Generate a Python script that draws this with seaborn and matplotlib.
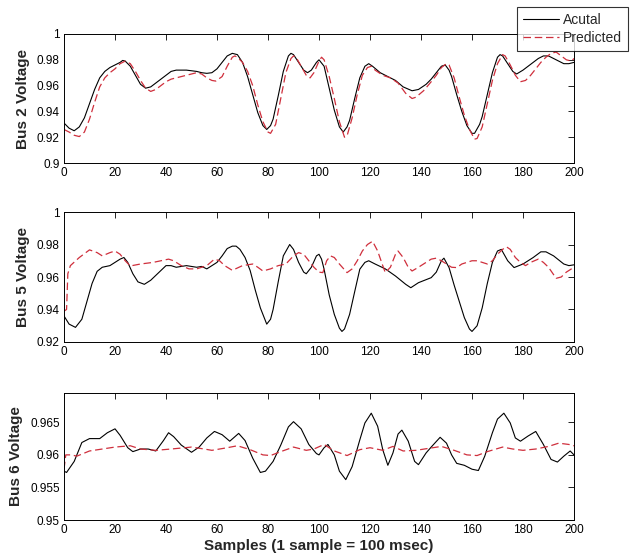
import numpy as np
import pandas as pd
import seaborn as sns
import matplotlib.pyplot as plt
from matplotlib.ticker import FuncFormatter

sns.set_style("white")
plt.rcParams['font.family'] = ['Liberation Sans', 'DejaVu Sans']

# Bus 2 - actual / predicted
bus2_act_x = [0, 2, 4, 6, 8, 10, 12, 14, 16, 18, 20, 22, 23, 24, 26, 28, 30, 32, 34, 36, 38, 40, 42, 44, 46, 48, 50,
              52, 54, 56, 58, 60, 62, 64, 66, 68, 70, 72, 74, 76, 78, 79.5, 81, 82, 84, 86, 88, 89, 90, 92, 94, 95.5,
              97, 99, 100, 102, 104, 106, 108, 109.5, 111, 112, 114, 116, 118, 119.5, 121, 124, 127, 130, 133, 136.5,
              139, 142, 144, 146, 148, 149.5, 151, 152, 154, 156, 158, 160, 161, 163, 164, 166, 168, 170, 171, 172,
              174, 176, 177.5, 180, 182, 184, 186, 188, 190, 192, 194, 196, 198, 200]
bus2_act_y = [0.931, 0.927, 0.925, 0.928, 0.935, 0.946, 0.957, 0.966, 0.971, 0.974, 0.976, 0.978, 0.9795, 0.979,
              0.975, 0.968, 0.961, 0.958, 0.959, 0.962, 0.965, 0.968, 0.971, 0.972, 0.972, 0.972, 0.9715, 0.971,
              0.970, 0.9695, 0.970, 0.973, 0.978, 0.983, 0.985, 0.984, 0.978, 0.967, 0.953, 0.939, 0.929, 0.926,
              0.929, 0.934, 0.952, 0.971, 0.983, 0.985, 0.984, 0.978, 0.972, 0.970, 0.972, 0.978, 0.980, 0.975,
              0.958, 0.941, 0.928, 0.924, 0.928, 0.933, 0.950, 0.966, 0.975, 0.977, 0.975, 0.970, 0.967, 0.964,
              0.959, 0.956, 0.957, 0.961, 0.965, 0.970, 0.975, 0.976, 0.972, 0.967, 0.953, 0.940, 0.929, 0.923,
              0.923, 0.930, 0.936, 0.953, 0.970, 0.982, 0.984, 0.983, 0.977, 0.971, 0.969, 0.972, 0.975, 0.978,
              0.981, 0.983, 0.983, 0.981, 0.979, 0.977, 0.977, 0.978]
bus2_pred_x = [0, 2, 4, 6, 8, 10, 12, 14, 16, 18, 20, 22, 24, 26, 28, 30, 32, 34, 36, 38, 40, 42, 44, 46, 48, 50, 52,
               54, 56, 58, 59.5, 62, 64, 66, 67, 68, 70, 72, 74, 76, 78, 80, 81, 83, 85, 87, 89, 90, 91, 93, 95, 96.5,
               98, 100, 101, 102, 104, 106, 108, 110, 111, 113, 115, 117, 119, 120.5, 122, 125, 128, 131, 134, 136.5,
               138, 141, 144, 146, 148, 150, 151, 153, 155, 157, 159, 161, 162, 164, 166, 168, 170, 172, 173, 175,
               177, 179, 181, 183, 185, 187, 189, 191, 193, 195, 197, 199, 200]
bus2_pred_y = [0.926, 0.924, 0.9215, 0.9205, 0.924, 0.934, 0.947, 0.959, 0.966, 0.970, 0.973, 0.977, 0.979, 0.977,
               0.971, 0.964, 0.958, 0.9555, 0.957, 0.960, 0.963, 0.965, 0.966, 0.967, 0.968, 0.969, 0.970, 0.969,
               0.966, 0.964, 0.9635, 0.967, 0.975, 0.982, 0.983, 0.982, 0.978, 0.971, 0.960, 0.945, 0.932, 0.924,
               0.923, 0.930, 0.950, 0.970, 0.981, 0.983, 0.982, 0.975, 0.968, 0.966, 0.970, 0.979, 0.982, 0.980,
               0.967, 0.950, 0.932, 0.920, 0.921, 0.935, 0.953, 0.968, 0.974, 0.975, 0.972, 0.968, 0.966, 0.962,
               0.954, 0.950, 0.951, 0.956, 0.963, 0.968, 0.974, 0.977, 0.976, 0.966, 0.951, 0.937, 0.926, 0.9185,
               0.919, 0.928, 0.946, 0.964, 0.977, 0.984, 0.983, 0.976, 0.968, 0.963, 0.964, 0.968, 0.973, 0.978,
               0.982, 0.985, 0.986, 0.983, 0.980, 0.979, 0.981]

# Bus 5 - actual / predicted
bus5_act_x = [0, 2, 4.5, 7, 9, 11, 13, 15, 18, 20, 22, 23.5, 25, 27, 29, 31.5, 34, 36, 38, 40, 42, 44, 46, 48, 50, 52,
              54, 56, 58, 60, 62, 64, 66, 67.5, 69, 71, 73, 75, 77, 79.5, 81, 82, 84, 86, 88.5, 90, 92, 94, 95, 97, 99,
              100, 101, 102, 104, 106, 108, 109, 110, 112, 114, 116, 118, 119.5, 122, 126, 130, 134, 136, 139, 144,
              146, 148, 149, 151, 153, 155, 157, 159, 160, 162, 164, 166, 168, 170, 171.5, 174, 176.5, 180, 184, 187,
              189, 192, 196, 198, 200]
bus5_act_y = [0.936, 0.931, 0.929, 0.934, 0.945, 0.956, 0.9635, 0.966, 0.967, 0.969, 0.971, 0.972, 0.969, 0.962,
              0.957, 0.9555, 0.958, 0.961, 0.964, 0.967, 0.967, 0.966, 0.9665, 0.967, 0.9665, 0.966, 0.9665, 0.965,
              0.967, 0.969, 0.973, 0.9775, 0.979, 0.979, 0.977, 0.972, 0.964, 0.952, 0.941, 0.931, 0.934, 0.940,
              0.957, 0.973, 0.980, 0.977, 0.969, 0.963, 0.962, 0.966, 0.973, 0.974, 0.971, 0.9648, 0.949, 0.937,
              0.9285, 0.9265, 0.928, 0.937, 0.951, 0.9648, 0.969, 0.970, 0.968, 0.965, 0.9606, 0.9555, 0.9534,
              0.9565, 0.9596, 0.963, 0.970, 0.9716, 0.9658, 0.955, 0.945, 0.935, 0.928, 0.9265, 0.930, 0.941, 0.956,
              0.969, 0.976, 0.977, 0.970, 0.9658, 0.968, 0.972, 0.9755, 0.9755, 0.973, 0.968, 0.967, 0.9675]
bus5_pred_x = [0, 1, 1.5, 2.5, 6, 10, 13, 15, 18, 20, 22, 24, 26, 30, 35, 38, 41, 43, 46, 49, 52, 56, 59, 61, 63, 66,
               70, 74, 76, 78, 81, 84, 87, 90, 92, 94, 96, 98, 100, 101.5, 103, 104.5, 106, 108, 111, 113, 115, 117,
               119, 121, 123, 125, 126, 128, 130, 131, 133, 135, 136.5, 139, 141, 144, 146, 148, 150, 152, 154, 156,
               158, 160, 162, 164, 166, 168, 170, 172, 173.5, 175, 177, 179, 181, 183, 186, 188, 190, 193, 195, 197,
               200]
bus5_pred_y = [0.939, 0.940, 0.962, 0.967, 0.972, 0.9767, 0.975, 0.973, 0.975, 0.976, 0.974, 0.970, 0.9668, 0.968,
               0.969, 0.970, 0.971, 0.970, 0.967, 0.965, 0.965, 0.967, 0.971, 0.970, 0.967, 0.9641, 0.967, 0.968,
               0.966, 0.9637, 0.965, 0.967, 0.968, 0.973, 0.975, 0.974, 0.970, 0.966, 0.963, 0.9627, 0.970, 0.973,
               0.972, 0.968, 0.9627, 0.965, 0.970, 0.976, 0.980, 0.982, 0.976, 0.967, 0.9627, 0.966, 0.974, 0.976,
               0.972, 0.966, 0.9637, 0.966, 0.968, 0.971, 0.9716, 0.970, 0.968, 0.966, 0.9658, 0.968, 0.969, 0.970,
               0.970, 0.969, 0.968, 0.970, 0.974, 0.977, 0.9786, 0.977, 0.972, 0.969, 0.967, 0.969, 0.971, 0.969,
               0.966, 0.9592, 0.960, 0.963, 0.966]

# Bus 6 - actual / predicted
bus6_act_x = [0, 1, 4, 7, 10, 14, 17, 20, 22, 25, 27, 30, 33, 36, 39, 41, 43, 46, 50, 53, 56, 59, 62, 65, 68.5, 71,
              74, 77, 79, 82, 85, 88, 90, 93, 96, 99, 100, 102, 103.5, 106, 108, 110.5, 113, 116, 118, 120.5, 123,
              125, 127, 129, 131, 132.5, 135, 137.5, 139, 142, 144, 147.5, 150, 152, 154, 157, 160, 162.5, 165, 168,
              170, 172.5, 175, 177, 179, 182, 185, 188, 191, 193.5, 196, 198.5, 200]
bus6_act_y = [0.9575, 0.9573, 0.959, 0.9619, 0.9625, 0.9625, 0.9634, 0.964, 0.963, 0.9611, 0.9605, 0.9609, 0.9609,
              0.9606, 0.9622, 0.9634, 0.9628, 0.9615, 0.9604, 0.9612, 0.9626, 0.9636, 0.9631, 0.9621, 0.9633,
              0.9622, 0.9595, 0.9573, 0.9575, 0.959, 0.9615, 0.9643, 0.9651, 0.964, 0.9616, 0.9602, 0.960, 0.9611,
              0.9616, 0.960, 0.9575, 0.9562, 0.9582, 0.9623, 0.9649, 0.9664, 0.9644, 0.9608, 0.9584, 0.9603,
              0.9632, 0.9638, 0.9621, 0.959, 0.9585, 0.9603, 0.9612, 0.9627, 0.9618, 0.960, 0.9587, 0.9584, 0.9578,
              0.9576, 0.9598, 0.9634, 0.9655, 0.9664, 0.9649, 0.9626, 0.9621, 0.9629, 0.9636, 0.9616, 0.9593,
              0.9589, 0.9598, 0.9606, 0.960]
bus6_pred_x = [0, 0.7, 3, 5, 10, 15, 20, 26, 30, 36, 42, 50, 55, 58, 64, 68, 73, 78, 81, 85, 90, 95, 98, 102, 106,
               111, 116, 120, 125, 129, 133, 138, 143, 148, 153, 158, 162, 166, 172, 176, 180, 185, 190, 194, 198, 200]
bus6_pred_y = [0.9578, 0.960, 0.960, 0.9598, 0.9606, 0.9609, 0.9612, 0.9614, 0.9609, 0.9607, 0.9609, 0.9612,
               0.9609, 0.9607, 0.9611, 0.9614, 0.9608, 0.960, 0.9599, 0.9605, 0.9612, 0.9607, 0.9609, 0.9616,
               0.9606, 0.9599, 0.9608, 0.9611, 0.9607, 0.9613, 0.9606, 0.9607, 0.961, 0.9613, 0.9607, 0.960,
               0.9599, 0.9605, 0.9612, 0.9609, 0.9607, 0.9609, 0.9613, 0.9618, 0.9616, 0.9614]

series_labels = ["Acutal", "Predicted"]
y_labels = ["Bus 2 Voltage", "Bus 5 Voltage", "Bus 6 Voltage"]
y_limits = [(0.9, 1.0), (0.92, 1.0), (0.95, 0.9695)]
y_ticks = [np.arange(0.9, 1.001, 0.02), np.arange(0.92, 1.001, 0.02), np.arange(0.95, 0.9651, 0.005)]
x_ticks = np.arange(0, 201, 20)

panels = [
    (bus2_act_x, bus2_act_y, bus2_pred_x, bus2_pred_y),
    (bus5_act_x, bus5_act_y, bus5_pred_x, bus5_pred_y),
    (bus6_act_x, bus6_act_y, bus6_pred_x, bus6_pred_y),
]

fig = plt.figure(figsize=(6.3, 5.6), dpi=100)
positions = [
    [0.1016, 0.7089, 0.8095, 0.2304],
    [0.1016, 0.3893, 0.8095, 0.2321],
    [0.1016, 0.0714, 0.8095, 0.2268],
]

fmt = FuncFormatter(lambda v, p: f"{round(v, 4):g}")
red = "#cf2f3c"

for i, (ax_x, ax_y, pr_x, pr_y) in enumerate(panels):
    ax = fig.add_axes(positions[i])
    sns.lineplot(x=ax_x, y=ax_y, ax=ax, color="black", linewidth=0.8, label=series_labels[0], legend=False)
    sns.lineplot(x=pr_x, y=pr_y, ax=ax, color=red, linewidth=0.9, label=series_labels[1], legend=False,
                 linestyle=(0, (6, 3)))
    ax.set_xlim(0, 200)
    ax.set_ylim(*y_limits[i])
    ax.set_xticks(x_ticks)
    ax.set_yticks(y_ticks[i])
    ax.yaxis.set_major_formatter(fmt)
    ax.tick_params(direction="in", length=4, width=0.6, top=True, right=True, labelsize=8.5,
                   colors="black", pad=3)
    for s in ax.spines.values():
        s.set_color("black")
        s.set_linewidth(0.7)
        s.set_visible(True)
    ax.set_ylabel(y_labels[i], fontsize=11, fontweight="bold", labelpad=5)
    ax.set_xlabel("")
    if i == 2:
        ax.set_xlabel("Samples (1 sample = 100 msec)", fontsize=11, fontweight="bold", labelpad=2)
    if i == 0:
        handles, labels = ax.get_legend_handles_labels()

leg = fig.legend(handles, labels, loc="upper right", bbox_to_anchor=(0.997, 0.988), fontsize=10,
                 frameon=True, fancybox=False, edgecolor="black", handlelength=2.6, borderpad=0.45,
                 labelspacing=0.3, handletextpad=0.25, borderaxespad=0.0)
leg.get_frame().set_linewidth(0.8)

plt.savefig("out.png", dpi=100)
